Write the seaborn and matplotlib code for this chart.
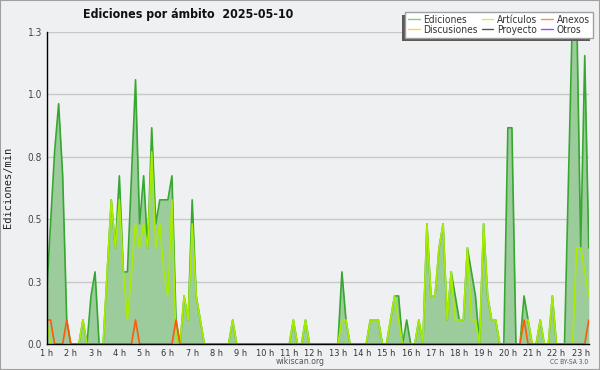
import numpy as np
import pandas as pd
import matplotlib
matplotlib.use("Agg")
import matplotlib.pyplot as plt
import seaborn as sns
from matplotlib import font_manager as fm
from matplotlib.lines import Line2D
from matplotlib.patches import Rectangle
from matplotlib.ticker import MultipleLocator, FormatStrFormatter, FixedLocator

# ---------------- data (edits/min, 10-minute bins starting at 1 h) ----------------
ediciones = [
    0.2, 0.5, 0.8, 1.0, 0.7, 0.1, 0, 0, 0, 0.1,
    0, 0.2, 0.3, 0, 0, 0.3, 0.6, 0.4, 0.7, 0.3,
    0.3, 0.7, 1.1, 0.5, 0.7, 0.4, 0.9, 0.5, 0.6, 0.6,
    0.6, 0.7, 0.1, 0, 0.2, 0.1, 0.6, 0.2, 0.1, 0,
    0, 0, 0, 0, 0, 0, 0.1, 0, 0, 0,
    0, 0, 0, 0, 0, 0, 0, 0, 0, 0,
    0, 0.1, 0, 0, 0.1, 0, 0, 0, 0, 0,
    0, 0, 0, 0.3, 0.1, 0, 0, 0, 0, 0,
    0.1, 0.1, 0.1, 0, 0, 0.1, 0.2, 0.2, 0, 0.1,
    0, 0, 0.1, 0, 0.5, 0.2, 0.2, 0.4, 0.5, 0.1,
    0.3, 0.2, 0.1, 0.1, 0.4, 0.3, 0.2, 0, 0.5, 0.2,
    0.1, 0.1, 0, 0, 0.9, 0.9, 0, 0, 0.2, 0.1,
    0, 0, 0.1, 0, 0, 0.2, 0, 0, 0, 0.7,
    1.4, 1.4, 0.4, 1.2, 0.4,
]
articulos = [
    0.1, 0, 0, 0, 0, 0, 0, 0, 0, 0.1,
    0, 0, 0, 0, 0, 0.3, 0.6, 0.4, 0.6, 0.3,
    0.1, 0.3, 0.5, 0.4, 0.5, 0.4, 0.8, 0.4, 0.5, 0.3,
    0.2, 0.6, 0, 0, 0.2, 0.1, 0.5, 0.2, 0.1, 0,
    0, 0, 0, 0, 0, 0, 0.1, 0, 0, 0,
    0, 0, 0, 0, 0, 0, 0, 0, 0, 0,
    0, 0.1, 0, 0, 0.1, 0, 0, 0, 0, 0,
    0, 0, 0, 0.1, 0.1, 0, 0, 0, 0, 0,
    0.1, 0.1, 0.1, 0, 0, 0.1, 0.2, 0.1, 0, 0,
    0, 0, 0.1, 0, 0.5, 0.2, 0.2, 0.4, 0.5, 0.1,
    0.3, 0.1, 0.1, 0.1, 0.4, 0.1, 0.1, 0, 0.5, 0.2,
    0.1, 0.1, 0, 0, 0, 0, 0, 0, 0.1, 0.1,
    0, 0, 0.1, 0, 0, 0.2, 0, 0, 0, 0,
    0, 0.4, 0.4, 0.3, 0.2,
]
anexos = [
    0.1, 0.1, 0, 0, 0, 0.1, 0, 0, 0, 0,
    0, 0, 0, 0, 0, 0, 0, 0, 0, 0,
    0, 0, 0.1, 0, 0, 0, 0, 0, 0, 0,
    0, 0, 0.1, 0, 0, 0, 0, 0, 0, 0,
    0, 0, 0, 0, 0, 0, 0, 0, 0, 0,
    0, 0, 0, 0, 0, 0, 0, 0, 0, 0,
    0, 0, 0, 0, 0, 0, 0, 0, 0, 0,
    0, 0, 0, 0, 0, 0, 0, 0, 0, 0,
    0, 0, 0, 0, 0, 0, 0, 0, 0, 0,
    0, 0, 0, 0, 0, 0, 0, 0, 0, 0,
    0, 0, 0, 0, 0, 0, 0, 0, 0, 0,
    0, 0, 0, 0, 0, 0, 0, 0, 0.1, 0,
    0, 0, 0, 0, 0, 0, 0, 0, 0, 0,
    0, 0, 0, 0, 0.1,
]
hour_ticks = list(range(1, 24))
legend_labels = ["Ediciones", "Discusiones", "Artículos", "Proyecto", "Anexos", "Otros"]
title_text = "Ediciones por ámbito  2025-05-10"
ylabel_text = "Ediciones/min"

# ---------------- styles ----------------
BG = "#eff0f1"
C_EDIT_LINE = "#36a830"
C_EDIT_FILL = "#9ccb9c"
C_ART = "#a8ec00"
C_ANX = "#ff5a0a"
LEG_COLORS = {"Ediciones": "#7fcf7f", "Discusiones": "#ffd24a", "Artículos": "#c8ee5a",
              "Proyecto": "#555555", "Anexos": "#ff8a5a", "Otros": "#9a50ee"}

sns.set_style("white")
plt.rcParams["font.family"] = ["DejaVu Sans"]
has_cond = any(f.name == "DejaVu Sans" and "condensed" in str(f.stretch).lower()
               for f in fm.fontManager.ttflist)
if has_cond:
    plt.rcParams["font.stretch"] = "condensed"
S = 1.0 if has_cond else 0.9

horas = 1 + np.arange(len(ediciones)) / 6.0
df = pd.DataFrame({"hora": horas, "Ediciones": ediciones,
                   "Artículos": articulos, "Anexos": anexos})
long = df.melt(id_vars="hora", value_vars=["Ediciones", "Artículos", "Anexos"],
               var_name="serie", value_name="valor")

fig = plt.figure(figsize=(6.0, 3.7), dpi=100, facecolor=BG)
ax = fig.add_axes([46.5 / 600, 26 / 370, (588.8 - 46.5) / 600, (344 - 31.7) / 370])
ax.set_facecolor(BG)

ax.fill_between(df["hora"], df["Ediciones"], 0, color=C_EDIT_FILL, lw=0, zorder=1)
sns.lineplot(data=long, x="hora", y="valor", hue="serie",
             hue_order=["Ediciones", "Artículos", "Anexos"],
             palette={"Ediciones": C_EDIT_LINE, "Artículos": C_ART, "Anexos": C_ANX},
             estimator=None, legend=False, linewidth=1.2, ax=ax, zorder=3)

ax.set_xlim(horas[0], horas[-1])
ax.set_ylim(0, 1.3)
ax.yaxis.set_major_locator(MultipleLocator(0.26))
ax.yaxis.set_minor_locator(MultipleLocator(0.065))
ax.yaxis.set_major_formatter(FormatStrFormatter("%.1f"))
ax.xaxis.set_major_locator(FixedLocator(hour_ticks))
ax.set_xticklabels([f"{h} h" for h in hour_ticks])
ax.xaxis.set_minor_locator(MultipleLocator(1 / 6))

ax.yaxis.grid(True, color="#c8c8c8", lw=1.0, zorder=0)
ax.set_axisbelow(True)
for s in ["top", "right"]:
    ax.spines[s].set_visible(False)
for s in ["left", "bottom"]:
    ax.spines[s].set_color("black")
    ax.spines[s].set_linewidth(1.0)
    ax.spines[s].set_zorder(4)

ax.tick_params(axis="y", which="major", direction="out", length=2.6, width=0.8,
               color="black", labelsize=7.2 * S, labelcolor="#444444", pad=0.5)
ax.tick_params(axis="y", which="minor", direction="out", length=2.0, width=0.7, color="black")
ax.tick_params(axis="x", which="major", direction="out", length=3.0, width=0.8,
               color="black", labelsize=6.6 * S, labelcolor="#333333", pad=0.3)
ax.tick_params(axis="x", which="minor", direction="out", length=2.4, width=0.7, color="black")
ax.set_xlabel("")
ax.set_ylabel(ylabel_text, family="DejaVu Sans Mono", fontstretch="normal",
              fontsize=7.5, color="#222222", labelpad=6)
ax.yaxis.set_label_coords(-0.062, 0.5)

fig.text(0.313, 0.962, title_text, ha="center", va="center", fontsize=8.9 * S,
         fontweight="bold", color="#111111")
fig.text(0.5, 0.022, "wikiscan.org", ha="center", va="center", fontsize=6.2 * S, color="#555555")
fig.text(0.98, 0.022, "CC BY-SA 3.0", ha="right", va="center", fontsize=4.8 * S, color="#555555")

handles = [Line2D([0], [0], color=LEG_COLORS[n], lw=1.0) for n in legend_labels]
leg = fig.legend(handles, legend_labels, ncol=3, loc="upper right",
                 bbox_to_anchor=(592.5 / 600, 1 - 12 / 370), borderaxespad=0,
                 fontsize=7.3 * S, frameon=True, fancybox=False, framealpha=1,
                 edgecolor="#a0a0a0", facecolor="white", borderpad=0.25,
                 labelspacing=0.05, handlelength=1.15, handletextpad=0.4,
                 columnspacing=0.35)
for t in leg.get_texts():
    t.set_color("#333333")
leg.get_frame().set_linewidth(1.0)

fig.canvas.draw()
bb = leg.get_window_extent()
inv = fig.transFigure.inverted()
(x0, y0) = inv.transform((bb.x0 - 3, bb.y0 - 3))
(x1, y1) = inv.transform((bb.x1 - 3, bb.y1 - 3))
fig.patches.append(Rectangle((x0, y0), x1 - x0, y1 - y0, transform=fig.transFigure,
                             facecolor="#5a5a5a", edgecolor="none", zorder=4.5))
fig.patches.append(Rectangle((0, 0), 1, 1, transform=fig.transFigure, fill=False,
                             edgecolor="#a0a0a0", lw=1.5, zorder=10))

fig.savefig("out.png", dpi=100, facecolor=BG)
